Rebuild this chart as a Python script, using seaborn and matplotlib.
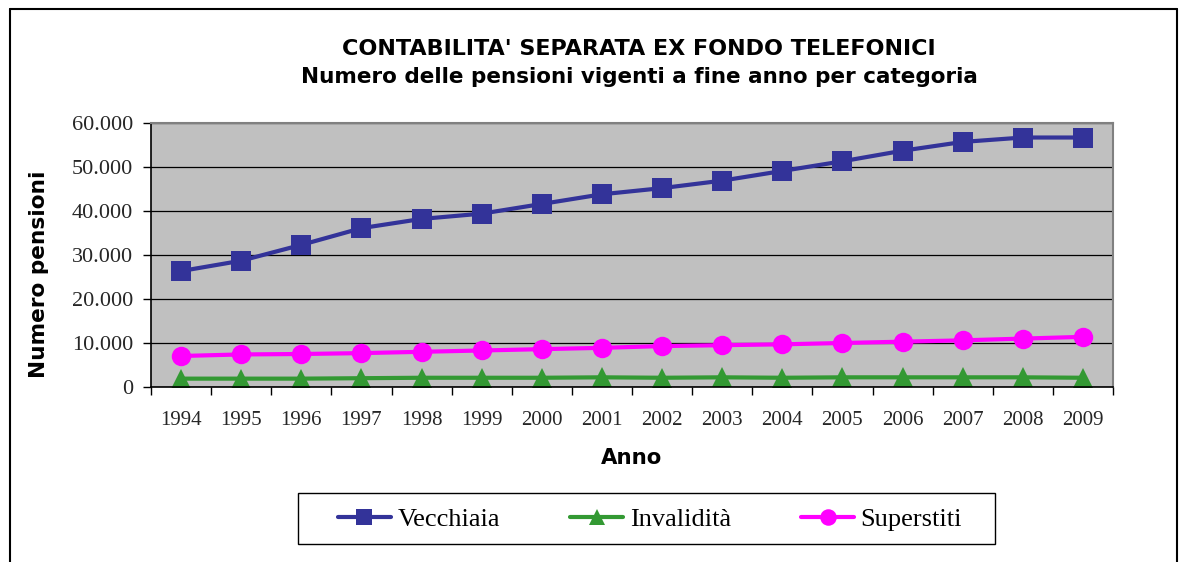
import pandas as pd
import seaborn as sns
import matplotlib.pyplot as plt
from matplotlib.ticker import FuncFormatter, MultipleLocator, FixedLocator
from matplotlib.patches import Rectangle

# data
anni = [str(a) for a in range(1994, 2010)]
vecchiaia = [26350, 28700, 32300, 36100, 38200, 39400, 41600, 43800,
             45200, 46900, 49100, 51300, 53700, 55700, 56700, 56700]
invalidita = [1900, 1900, 1900, 2000, 2100, 2100, 2100, 2200,
              2100, 2200, 2100, 2200, 2200, 2200, 2200, 2100]
superstiti = [7050, 7400, 7500, 7700, 8000, 8300, 8600, 8900,
              9300, 9500, 9700, 10000, 10300, 10600, 11000, 11400]

series = {
    "Vecchiaia": (vecchiaia, "#333399", "s"),
    "Invalidità": (invalidita, "#339933", "^"),
    "Superstiti": (superstiti, "#FF00FF", "o"),
}

sns.set_theme(style="white")
plt.rcParams['font.family'] = ['DejaVu Sans']
plt.rcParams['text.color'] = 'black'
plt.rcParams['axes.labelcolor'] = 'black'

W, H = 1187, 562
fig = plt.figure(figsize=(W / 100, H / 100), dpi=100)
ax = fig.add_axes([151 / W, 1 - 387 / H, (1113 - 151) / W, (387 - 123) / H])
ax.set_facecolor("#C0C0C0")

x = list(range(len(anni)))
for name, (vals, col, mk) in series.items():
    df = pd.DataFrame({"x": x, "y": vals})
    sns.lineplot(data=df, x="x", y="y", ax=ax, color=col, marker=mk,
                 markersize=14, markeredgewidth=0, linewidth=3, label=name)

ax.set_ylim(0, 60000)
ax.set_xlim(-0.5, len(anni) - 0.5)
ax.yaxis.set_major_locator(MultipleLocator(10000))
ax.yaxis.set_major_formatter(FuncFormatter(lambda v, p: f"{int(v):,}".replace(",", ".")))
ax.grid(axis="y", color="black", linewidth=0.9)
ax.set_axisbelow(True)

ax.xaxis.set_major_locator(FixedLocator(x))
ax.set_xticklabels(anni)
ax.xaxis.set_minor_locator(FixedLocator([i - 0.5 for i in range(len(anni) + 1)]))
ax.tick_params(axis="x", which="major", length=0, pad=17)
ax.tick_params(axis="x", which="minor", length=6, width=1, color="black", direction="out", bottom=True)
ax.tick_params(axis="y", length=6, width=1, color="black", direction="out", left=True, pad=7)
for lab in ax.get_xticklabels():
    lab.set_fontfamily("Liberation Serif")
    lab.set_fontsize(15)
for lab in ax.get_yticklabels():
    lab.set_fontfamily("Liberation Serif")
    lab.set_fontsize(16)

for s in ["left", "bottom"]:
    ax.spines[s].set_color("black")
    ax.spines[s].set_linewidth(1.2)
for s in ["top", "right"]:
    ax.spines[s].set_color("#808080")
    ax.spines[s].set_linewidth(1.5)

ax.set_xlabel("Anno", fontsize=15.3, fontweight="bold", labelpad=13)
ax.set_ylabel("Numero pensioni", fontsize=15.6, fontweight="bold")
ax.yaxis.set_label_coords((49 - 151) / 962, (387 - 274) / 264)

fig.text(639 / W, 1 - 49 / H, "CONTABILITA' SEPARATA EX FONDO TELEFONICI",
         ha="center", va="center", fontsize=16, fontweight="bold")
fig.text(639 / W, 1 - 77 / H, "Numero delle pensioni vigenti a fine anno per categoria",
         ha="center", va="center", fontsize=15.5, fontweight="bold")

ax.get_legend().remove()
handles, labels = ax.get_legend_handles_labels()
fig.legend(handles, labels, ncol=3, mode="expand",
           bbox_to_anchor=(338 / W, 1 - 535 / H, (962 - 338) / W, 32 / H),
           loc="center", frameon=False, borderaxespad=0, borderpad=0,
           prop={"family": "Liberation Serif", "size": 19},
           handlelength=2.0, handletextpad=0.25, markerscale=0.85)
fig.add_artist(Rectangle((298 / W, 1 - 544 / H), 697 / W, 51 / H, transform=fig.transFigure,
                         fill=False, edgecolor="black", linewidth=1))

# outer chart frame (top, left, right)
fig.add_artist(plt.Line2D([10 / W, 1177 / W], [1 - 9 / H, 1 - 9 / H], color="black", lw=1.5, transform=fig.transFigure))
fig.add_artist(plt.Line2D([10 / W, 10 / W], [0, 1 - 9 / H], color="black", lw=1.5, transform=fig.transFigure))
fig.add_artist(plt.Line2D([1177 / W, 1177 / W], [0, 1 - 9 / H], color="black", lw=1.5, transform=fig.transFigure))

fig.savefig("out.png", dpi=100)
